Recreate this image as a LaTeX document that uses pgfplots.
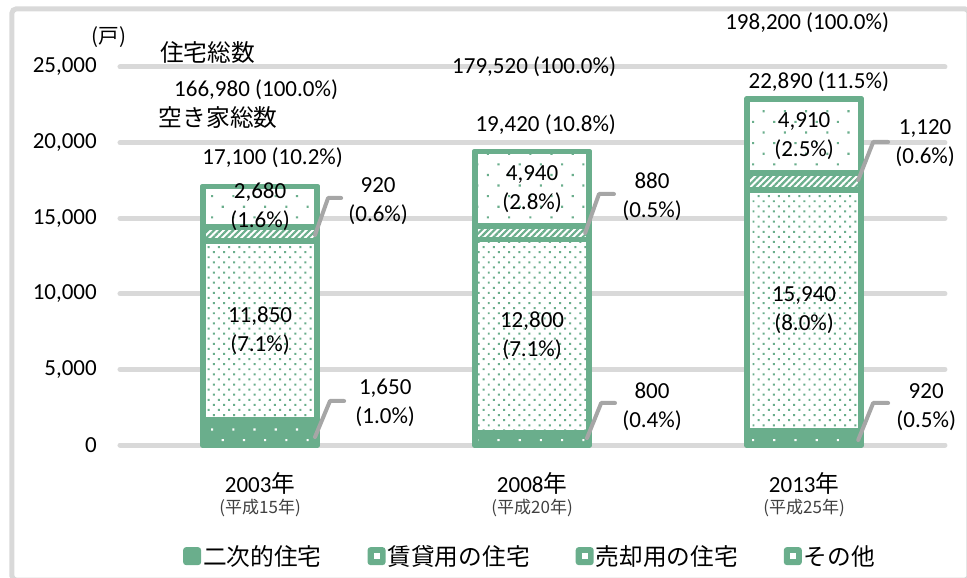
\documentclass[border=0pt]{standalone}
\usepackage{fontspec}
\setmainfont{Carlito}
\newfontfamily\jp[Scale=1.03]{Noto Sans CJK JP}
\usepackage{pgfplots}
\usepackage{pgfplotstable}
\pgfplotsset{compat=1.18}
\usetikzlibrary{patterns.meta}
\definecolor{barG}{RGB}{106,174,140}
\definecolor{gridC}{RGB}{217,217,217}
\definecolor{leadC}{RGB}{166,166,166}
\definecolor{subC}{RGB}{64,64,64}
\newcommand\fs{\fontsize{23}{29}\selectfont}
\newcommand\sfs{\fontsize{16.5}{19}\selectfont}
\newcommand\legbox{\pgfsetcornersarced{\pgfpoint{3pt}{3pt}}\pgfsetfillcolor{barG}%
  \pgfpathrectangle{\pgfpoint{0pt}{-9pt}}{\pgfpoint{18pt}{18pt}}\pgfusepath{fill}%
  \pgfsetcornersarced{\pgfpointorigin}}
\newcommand\leginner{\pgfsetfillcolor{white}%
  \pgfpathrectangle{\pgfpoint{6pt}{-3pt}}{\pgfpoint{6pt}{6pt}}\pgfusepath{fill}}

\pgfplotstableread{
x niji chintai baikyaku sonota
0 1650 11850 920 2680
1 800 12800 880 4940
2 920 15940 1120 4910
}\data

\begin{document}
\begin{tikzpicture}
\begin{axis}[
  scale only axis, width=825pt, height=378pt,
  xmin=-0.515, xmax=2.518, ymin=0, ymax=25000,
  clip=false,
  ybar stacked, bar width=0.42,
  axis line style={draw=none},
  major tick length=0pt,
  ytick={0,5000,10000,15000,20000,25000},
  scaled y ticks=false,
  /pgf/number format/1000 sep={,},
  /pgf/number format/assume math mode=true,
  yticklabel style={font=\fs, inner sep=0pt, xshift=-23pt},
  ymajorgrids, major grid style={gridC, line width=5pt, line cap=round},
  xtick={0,1,2},
  xticklabels={2003{\jp 年},2008{\jp 年},2013{\jp 年}},
  xticklabel style={font=\fs, anchor=center, inner sep=0pt, yshift=-38pt},
  legend style={at={(0.497,-0.294)}, anchor=center, draw=none, fill=none,
    font=\fs, legend columns=4, inner sep=0pt,
    /tikz/every even column/.append style={column sep=44pt}},
  legend cell align=left,
]
\addplot[draw=barG, line width=5.5pt, line join=round,
  preaction={fill=barG}, pattern={Dots[distance=15pt, angle=45, radius=1.5pt]},
  pattern color=white, legend image code/.code={\legbox}] table[x=x, y=niji]{\data};
\addlegendentry{\jp 二次的住宅}
\addplot[draw=barG, line width=5.5pt, line join=round,
  preaction={fill=white}, pattern={Dots[distance=7.2pt, angle=45, radius=1.4pt]},
  pattern color=barG, legend image code/.code={\legbox\leginner}] table[x=x, y=chintai]{\data};
\addlegendentry{\jp 賃貸用の住宅}
\addplot[draw=barG, line width=5.5pt, line join=round,
  preaction={fill=white}, pattern={Lines[angle=45, distance=4.5pt, line width=2.2pt]},
  pattern color=barG, legend image code/.code={\legbox\leginner}] table[x=x, y=baikyaku]{\data};
\addlegendentry{\jp 売却用の住宅}
\addplot[draw=barG, line width=5.5pt, line join=round,
  preaction={fill=white}, pattern={Dots[distance=15pt, angle=45, radius=1.5pt]},
  pattern color=barG, legend image code/.code={\legbox\leginner}] table[x=x, y=sonota]{\data};
\addlegendentry{\jp その他}

% anchor points for annotations (drawn after the axis, above the bars)
\coordinate (F1) at (rel axis cs:-0.13091,-0.35714);
\coordinate (F2) at (rel axis cs:1.02909,1.15344);
\coordinate (BBa) at (rel axis cs:-0.14545,-0.35185);
\coordinate (BBb) at (rel axis cs:1.02667,1.17725);
\coordinate (Unit) at (axis cs:-0.555,26985);
\coordinate (H1) at (axis cs:-0.193,25927);
\coordinate (H2) at (axis cs:-0.154,21628);
\coordinate (T1a) at (axis cs:0.287,23480);
\coordinate (T1b) at (axis cs:0.305,18982);
\coordinate (T2a) at (axis cs:1.309,25001);
\coordinate (T2b) at (axis cs:1.309,21165);
\coordinate (T3a) at (axis cs:2.313,27911);
\coordinate (T3b) at (axis cs:2.313,24009);
\coordinate (I1a) at (axis cs:0,15760);
\coordinate (I1b) at (axis cs:0,7575);
\coordinate (I2a) at (axis cs:1,16950);
\coordinate (I2b) at (axis cs:1,7200);
\coordinate (I3a) at (axis cs:2,20435);
\coordinate (I3b) at (axis cs:2,8890);
\coordinate (S1a) at (axis cs:0.434,16138);
\coordinate (S1b) at (axis cs:0.46,2778);
\coordinate (S2a) at (axis cs:1.441,16403);
\coordinate (S2b) at (axis cs:1.441,2513);
\coordinate (S3a) at (axis cs:2.445,19974);
\coordinate (S3b) at (axis cs:2.449,2513);
\coordinate (L1a1) at (axis cs:0.202,13889);
\coordinate (L1a2) at (axis cs:0.25,16337);
\coordinate (L1a3) at (axis cs:0.298,16337);
\coordinate (L1b1) at (axis cs:0.202,529);
\coordinate (L1b2) at (axis cs:0.257,2910);
\coordinate (L1b3) at (axis cs:0.309,2910);
\coordinate (L2a1) at (axis cs:1.195,14022);
\coordinate (L2a2) at (axis cs:1.246,16601);
\coordinate (L2a3) at (axis cs:1.301,16601);
\coordinate (L2b1) at (axis cs:1.202,463);
\coordinate (L2b2) at (axis cs:1.254,2778);
\coordinate (L2b3) at (axis cs:1.305,2778);
\coordinate (L3a1) at (axis cs:2.199,17527);
\coordinate (L3a2) at (axis cs:2.254,20040);
\coordinate (L3a3) at (axis cs:2.309,20040);
\coordinate (L3b1) at (axis cs:2.199,331);
\coordinate (L3b2) at (axis cs:2.254,2778);
\coordinate (L3b3) at (axis cs:2.309,2778);
\coordinate (E1) at (axis cs:0,-4167);
\coordinate (E2) at (axis cs:1,-4167);
\coordinate (E3) at (axis cs:2,-4167);
\end{axis}

% frame
\draw[gridC, line width=5pt, rounded corners=4pt] (F1) rectangle (F2);

% unit and headers
\node[font=\fs] at (Unit) {\jp\fontsize{20}{24}\selectfont (戸)};
\node[font=\fs] at (H1) {\jp 住宅総数};
\node[font=\fs] at (H2) {\jp 空き家総数};

% totals
\node[font=\fs, anchor=east, inner sep=0pt] at (T1a) {166,980 (100.0\%)};
\node[font=\fs, anchor=east, inner sep=0pt] at (T1b) {17,100 (10.2\%)};
\node[font=\fs, anchor=east, inner sep=0pt] at (T2a) {179,520 (100.0\%)};
\node[font=\fs, anchor=east, inner sep=0pt] at (T2b) {19,420 (10.8\%)};
\node[font=\fs, anchor=east, inner sep=0pt] at (T3a) {198,200 (100.0\%)};
\node[font=\fs, anchor=east, inner sep=0pt] at (T3b) {22,890 (11.5\%)};

% inside labels
\node[font=\fs, align=center] at (I1a) {2,680\\(1.6\%)};
\node[font=\fs, align=center] at (I1b) {11,850\\(7.1\%)};
\node[font=\fs, align=center] at (I2a) {4,940\\(2.8\%)};
\node[font=\fs, align=center] at (I2b) {12,800\\(7.1\%)};
\node[font=\fs, align=center] at (I3a) {4,910\\(2.5\%)};
\node[font=\fs, align=center] at (I3b) {15,940\\(8.0\%)};

% side labels
\node[font=\fs, align=center] at (S1a) {920\\(0.6\%)};
\node[font=\fs, align=center] at (S1b) {1,650\\(1.0\%)};
\node[font=\fs, align=center] at (S2a) {880\\(0.5\%)};
\node[font=\fs, align=center] at (S2b) {800\\(0.4\%)};
\node[font=\fs, align=center] at (S3a) {1,120\\(0.6\%)};
\node[font=\fs, align=center] at (S3b) {920\\(0.5\%)};

% leader lines
\begin{scope}[leadC, line width=4pt, line cap=round, line join=round]
\draw (L1a1) -- (L1a2) -- (L1a3);
\draw (L1b1) -- (L1b2) -- (L1b3);
\draw (L2a1) -- (L2a2) -- (L2a3);
\draw (L2b1) -- (L2b2) -- (L2b3);
\draw (L3a1) -- (L3a2) -- (L3a3);
\draw (L3b1) -- (L3b2) -- (L3b3);
\end{scope}

% era sub labels
\node[text=subC] at (E1) {\jp\sfs (平成15年)};
\node[text=subC] at (E2) {\jp\sfs (平成20年)};
\node[text=subC] at (E3) {\jp\sfs (平成25年)};

\pgfresetboundingbox
\path[use as bounding box] (BBa) rectangle (BBb);
\end{tikzpicture}
\end{document}
